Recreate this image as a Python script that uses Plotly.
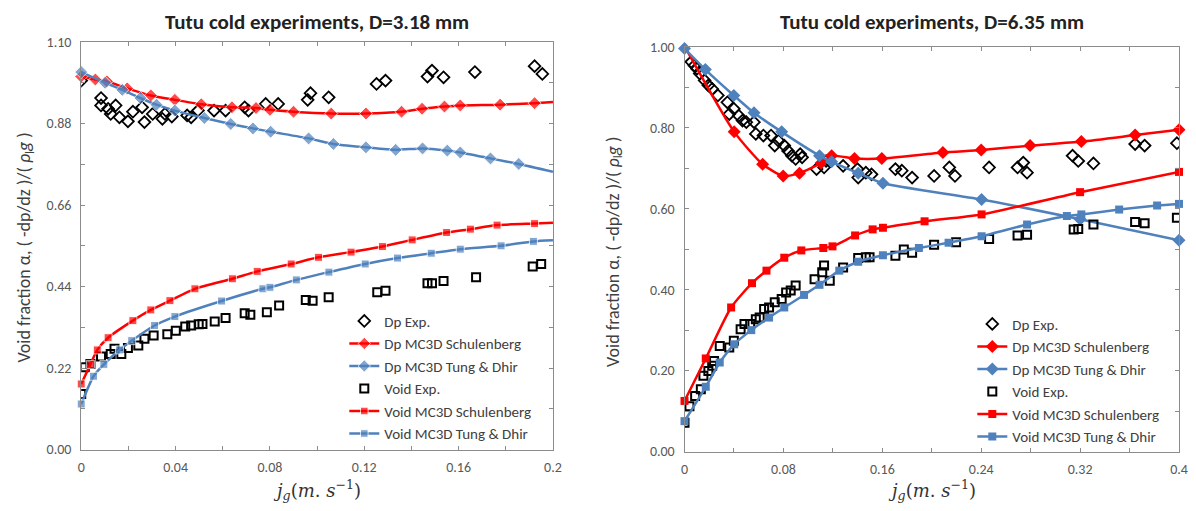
import plotly.graph_objects as go

# ---------------- D = 3.18 mm (left) ----------------
l_dpexp_x = [0, 0.0084, 0.0084, 0.0114, 0.0146, 0.0125, 0.0162, 0.0198, 0.0219, 0.0258, 0.0268, 0.0303,
             0.0344, 0.0355, 0.0384, 0.0449, 0.0466, 0.0495, 0.0563, 0.0612, 0.0693, 0.0709, 0.0782, 0.0835,
             0.096, 0.0972, 0.1049, 0.1252, 0.129, 0.1468, 0.1487, 0.1536, 0.1669, 0.1922, 0.1955]
l_dpexp_y = [0.996, 0.949, 0.929, 0.920, 0.929, 0.906, 0.897, 0.886, 0.912, 0.924, 0.884, 0.906,
             0.893, 0.906, 0.899, 0.902, 0.897, 0.915, 0.915, 0.915, 0.924, 0.915, 0.933, 0.933,
             0.944, 0.962, 0.951, 0.987, 0.996, 1.007, 1.023, 1.005, 1.019, 1.035, 1.014]

l_dpsch_x = [0, 0.006, 0.0109, 0.0195, 0.0295, 0.0397, 0.0509, 0.0639, 0.0741, 0.080, 0.090, 0.106,
             0.1207, 0.1358, 0.1445, 0.154, 0.1607, 0.1776, 0.1922, 0.2]
l_dpsch_y = [1.007, 0.999, 0.994, 0.975, 0.956, 0.944, 0.932, 0.924, 0.922, 0.917, 0.912, 0.907,
             0.907, 0.912, 0.920, 0.926, 0.929, 0.931, 0.935, 0.938]

l_dptd_x = [0, 0.0101, 0.0174, 0.0251, 0.0319, 0.0397, 0.0522, 0.0634, 0.0728, 0.0803, 0.0964, 0.1069,
            0.1207, 0.1333, 0.1447, 0.1552, 0.1607, 0.1735, 0.1855, 0.2]
l_dptd_y = [1.019, 0.990, 0.971, 0.949, 0.931, 0.915, 0.895, 0.879, 0.867, 0.858, 0.840, 0.825,
            0.816, 0.809, 0.813, 0.807, 0.802, 0.786, 0.771, 0.750]

l_vexp_x = [0, 0.0015, 0.0039, 0.0084, 0.0125, 0.0141, 0.017, 0.0198, 0.0242, 0.0268, 0.0307, 0.0365,
            0.0401, 0.0441, 0.0466, 0.0498, 0.0514, 0.0566, 0.0612, 0.0693, 0.0717, 0.0787, 0.0839,
            0.0952, 0.0981, 0.1049, 0.1255, 0.129, 0.1468, 0.1487, 0.1536, 0.1674, 0.1914, 0.195]
l_vexp_y = [0.150, 0.222, 0.231, 0.251, 0.258, 0.272, 0.258, 0.274, 0.281, 0.299, 0.308, 0.311,
            0.321, 0.332, 0.335, 0.338, 0.339, 0.346, 0.355, 0.368, 0.364, 0.371, 0.389,
            0.404, 0.402, 0.411, 0.425, 0.429, 0.449, 0.449, 0.455, 0.465, 0.494, 0.501]

l_vsch_x = [0, 0.0039, 0.0068, 0.0114, 0.0219, 0.0295, 0.0376, 0.0482, 0.0641, 0.0746, 0.089, 0.1006,
            0.1144, 0.1277, 0.1403, 0.1549, 0.165, 0.1763, 0.1922, 0.2]
l_vsch_y = [0.177, 0.230, 0.269, 0.302, 0.348, 0.377, 0.402, 0.434, 0.461, 0.481, 0.501, 0.519,
            0.533, 0.548, 0.566, 0.586, 0.595, 0.606, 0.610, 0.612]

l_vtd_x = [0, 0.0052, 0.0096, 0.0162, 0.0214, 0.0311, 0.0397, 0.0595, 0.077, 0.080, 0.0912, 0.105,
           0.1204, 0.1341, 0.1484, 0.1607, 0.178, 0.1917, 0.2]
l_vtd_y = [0.123, 0.198, 0.230, 0.269, 0.294, 0.335, 0.359, 0.401, 0.434, 0.438, 0.458, 0.479,
           0.501, 0.517, 0.530, 0.541, 0.550, 0.562, 0.565]

# ---------------- D = 6.35 mm (right) ----------------
r_dpexp_x = [0.0055, 0.008, 0.0101, 0.0123, 0.0163, 0.0193, 0.0224, 0.027, 0.0347, 0.0362, 0.0399, 0.0439,
             0.0469, 0.050, 0.0562, 0.0577, 0.0638, 0.070, 0.073, 0.0761, 0.0807, 0.0838, 0.0868, 0.0899,
             0.0936, 0.0951, 0.1068, 0.1129, 0.1145, 0.1283, 0.1399, 0.1405, 0.1467, 0.1513, 0.1706,
             0.1758, 0.1841, 0.2019, 0.2142, 0.2188, 0.2464, 0.2694, 0.274, 0.2771, 0.3139, 0.3185,
             0.3308, 0.3645, 0.3722, 0.3983]
r_dpexp_y = [0.963, 0.954, 0.946, 0.934, 0.917, 0.905, 0.896, 0.880, 0.863, 0.834, 0.847, 0.830,
             0.818, 0.814, 0.814, 0.785, 0.781, 0.781, 0.756, 0.768, 0.756, 0.743, 0.731, 0.723,
             0.735, 0.727, 0.698, 0.702, 0.718, 0.706, 0.698, 0.677, 0.689, 0.685, 0.698,
             0.694, 0.677, 0.681, 0.702, 0.681, 0.702, 0.702, 0.714, 0.689, 0.731, 0.718,
             0.712, 0.760, 0.756, 0.762]

r_dpsch_x = [0, 0.0402, 0.0632, 0.0798, 0.093, 0.1105, 0.119, 0.1375, 0.1596, 0.209, 0.240, 0.2795,
             0.321, 0.3645, 0.400]
r_dpsch_y = [1.002, 0.790, 0.710, 0.681, 0.688, 0.713, 0.731, 0.724, 0.724, 0.739, 0.745, 0.756,
             0.766, 0.782, 0.795]

r_dptd_x = [0, 0.0169, 0.0399, 0.0562, 0.0786, 0.1092, 0.119, 0.1405, 0.1605, 0.2403, 0.320, 0.400]
r_dptd_y = [0.996, 0.944, 0.880, 0.837, 0.790, 0.731, 0.716, 0.688, 0.663, 0.623, 0.574, 0.522]

r_vexp_x = [0, 0.004, 0.0086, 0.0132, 0.0153, 0.0193, 0.0224, 0.0239, 0.0285, 0.0362, 0.0399, 0.0454,
            0.0485, 0.0531, 0.0577, 0.0608, 0.0644, 0.0684, 0.073, 0.0786, 0.0822, 0.0859, 0.0899,
            0.1052, 0.1114, 0.1129, 0.1175, 0.1283, 0.1405, 0.1467, 0.1497, 0.1706, 0.1774, 0.1841,
            0.2019, 0.2197, 0.2464, 0.2694, 0.2771, 0.3148, 0.3185, 0.3308, 0.3645, 0.3722, 0.3983]
r_vexp_y = [0.071, 0.112, 0.137, 0.154, 0.187, 0.199, 0.212, 0.224, 0.261, 0.257, 0.274, 0.302,
            0.315, 0.315, 0.327, 0.331, 0.352, 0.356, 0.369, 0.377, 0.393, 0.398, 0.410,
            0.426, 0.443, 0.460, 0.422, 0.455, 0.478, 0.480, 0.480, 0.484, 0.499, 0.491,
            0.511, 0.517, 0.525, 0.534, 0.536, 0.549, 0.550, 0.561, 0.567, 0.564, 0.578]

r_vsch_x = [0, 0.0172, 0.0377, 0.0546, 0.0663, 0.0807, 0.0945, 0.1123, 0.1197, 0.138, 0.1522, 0.1605,
            0.1942, 0.2403, 0.320, 0.400]
r_vsch_y = [0.125, 0.230, 0.356, 0.416, 0.447, 0.479, 0.497, 0.503, 0.507, 0.534, 0.549, 0.553,
            0.569, 0.586, 0.641, 0.691]

r_vtd_x = [0, 0.0172, 0.0285, 0.0402, 0.054, 0.0684, 0.0807, 0.0967, 0.1092, 0.1252, 0.1405, 0.1605,
           0.1896, 0.2136, 0.2403, 0.2771, 0.3093, 0.321, 0.3516, 0.3823, 0.400]
r_vtd_y = [0.075, 0.160, 0.220, 0.265, 0.300, 0.331, 0.356, 0.387, 0.412, 0.447, 0.469, 0.485,
           0.503, 0.516, 0.532, 0.561, 0.582, 0.586, 0.598, 0.608, 0.612]

# ---------------- ticks ----------------
l_y_ticks = [0.00, 0.11, 0.22, 0.33, 0.44, 0.55, 0.66, 0.77, 0.88, 0.99, 1.10]
l_y_labels = ["0.00", "", "0.22", "", "0.44", "", "0.66", "", "0.88", "", "1.10"]
l_x_ticks = [0, 0.02, 0.04, 0.06, 0.08, 0.10, 0.12, 0.14, 0.16, 0.18, 0.20]
l_x_labels = ["0", "", "0.04", "", "0.08", "", "0.12", "", "0.16", "", "0.2"]
r_y_ticks = [0.0, 0.1, 0.2, 0.3, 0.4, 0.5, 0.6, 0.7, 0.8, 0.9, 1.0]
r_y_labels = ["0.00", "", "0.20", "", "0.40", "", "0.60", "", "0.80", "", "1.00"]
r_x_ticks = [0, 0.04, 0.08, 0.12, 0.16, 0.20, 0.24, 0.28, 0.32, 0.36, 0.40]
r_x_labels = ["0", "", "0.08", "", "0.16", "", "0.24", "", "0.32", "", "0.4"]

titles = ["Tutu cold experiments, D=3.18 mm", "Tutu cold experiments, D=6.35 mm"]
names = ["Dp Exp.", "Dp MC3D Schulenberg", "Dp MC3D Tung & Dhir",
         "Void Exp.", "Void MC3D Schulenberg", "Void MC3D Tung & Dhir"]

RED = "#FF0000"
BLUE = "#4F81BD"
FONT = "Carlito, Lato, sans-serif"

# The page body has an 8px default margin: size the figure to fit the window
OFF = 8
W, H = 1196 - 2 * OFF, 511 - 2 * OFF


def px_x(x):
    return min(max((x - OFF) / W, 0.0), 1.0)


def px_y(y):
    return (H - (y - OFF)) / H


fig = go.Figure()


def add_set(xa, ya, legend, sets, edge_hidden):
    (dpe, dps, dpt, ve, vs, vt) = sets
    common = dict(xaxis=xa, yaxis=ya, legend=legend)

    def msize(xs, s):
        if not edge_hidden:
            return s
        return [s if v < 0.1999 else 0 for v in xs]

    fig.add_trace(go.Scatter(x=dpe[0], y=dpe[1], mode="markers", name=names[0],
                             marker=dict(symbol="diamond-open", size=9, color="black", line=dict(width=1.8)),
                             legendgroup=legend + "a", **common))
    fig.add_trace(go.Scatter(x=dps[0], y=dps[1], mode="lines+markers", name=names[1],
                             line=dict(color=RED, width=2.5, shape="spline", smoothing=0.6),
                             marker=dict(symbol="diamond", size=msize(dps[0], 10), color=RED),
                             cliponaxis=False, legendgroup=legend + "b", **common))
    fig.add_trace(go.Scatter(x=dpt[0], y=dpt[1], mode="lines+markers", name=names[2],
                             line=dict(color=BLUE, width=2.5, shape="spline", smoothing=0.6),
                             marker=dict(symbol="diamond", size=msize(dpt[0], 10), color=BLUE),
                             cliponaxis=False, legendgroup=legend + "c", **common))
    fig.add_trace(go.Scatter(x=ve[0], y=ve[1], mode="markers", name=names[3],
                             marker=dict(symbol="square-open", size=8, color="black", line=dict(width=2)),
                             legendgroup=legend + "d", **common))
    fig.add_trace(go.Scatter(x=vs[0], y=vs[1], mode="lines+markers", name=names[4],
                             line=dict(color=RED, width=2.5, shape="spline", smoothing=0.6),
                             marker=dict(symbol="square", size=msize(vs[0], 8), color=RED),
                             cliponaxis=False, legendgroup=legend + "e", **common))
    fig.add_trace(go.Scatter(x=vt[0], y=vt[1], mode="lines+markers", name=names[5],
                             line=dict(color=BLUE, width=2.5, shape="spline", smoothing=0.6),
                             marker=dict(symbol="square", size=msize(vt[0], 8), color=BLUE),
                             cliponaxis=False, legendgroup=legend + "f", **common))


add_set("x", "y", "legend",
        [(l_dpexp_x, l_dpexp_y), (l_dpsch_x, l_dpsch_y), (l_dptd_x, l_dptd_y),
         (l_vexp_x, l_vexp_y), (l_vsch_x, l_vsch_y), (l_vtd_x, l_vtd_y)], True)
add_set("x2", "y2", "legend2",
        [(r_dpexp_x, r_dpexp_y), (r_dpsch_x, r_dpsch_y), (r_dptd_x, r_dptd_y),
         (r_vexp_x, r_vexp_y), (r_vsch_x, r_vsch_y), (r_vtd_x, r_vtd_y)], False)

# plot areas in window pixels
L = dict(x0=78, x1=555, y0=35, y1=457)
R = dict(x0=688, x1=1188, y0=40, y1=459)

lx, ly = [px_x(L["x0"]), px_x(L["x1"])], [px_y(L["y1"]), px_y(L["y0"])]
rx, ry = [px_x(R["x0"]), px_x(R["x1"])], [px_y(R["y1"]), px_y(R["y0"])]

axis_common = dict(showgrid=False, zeroline=False, showline=True, linecolor="#8c8c8c", linewidth=1,
                   mirror="ticks", ticks="inside", ticklen=4, tickcolor="#8c8c8c",
                   tickfont=dict(family=FONT, size=14, color="#595959"))

fig.update_layout(
    width=W, height=H, margin=dict(l=0, r=0, t=0, b=0),
    plot_bgcolor="white", paper_bgcolor="white", showlegend=True,
    xaxis=dict(domain=lx, range=[0, 0.2], tickvals=l_x_ticks, ticktext=l_x_labels, anchor="y",
               ticklabelstandoff=5, **axis_common),
    yaxis=dict(domain=ly, range=[0, 1.1], tickvals=l_y_ticks, ticktext=l_y_labels, anchor="x",
               ticklabelstandoff=6, **axis_common),
    xaxis2=dict(domain=rx, range=[0, 0.4], tickvals=r_x_ticks, ticktext=r_x_labels, anchor="y2",
                ticklabelstandoff=5, **axis_common),
    yaxis2=dict(domain=ry, range=[0, 1.0], tickvals=r_y_ticks, ticktext=r_y_labels, anchor="x2",
                ticklabelstandoff=6, **axis_common),
    legend=dict(x=px_x(344), y=px_y(307), xanchor="left", yanchor="top", bgcolor="rgba(0,0,0,0)",
                font=dict(family=FONT, size=15, color="#404040"), tracegroupgap=0, itemwidth=30),
    legend2=dict(x=px_x(979), y=px_y(310), xanchor="left", yanchor="top", bgcolor="rgba(0,0,0,0)",
                 font=dict(family=FONT, size=15, color="#404040"), tracegroupgap=0, itemwidth=30),
)

ytitle = "Void fraction α, ( -dp/dz )/( <i>ρ</i><sub>l</sub><i>g</i> )"
xtitle = "<i>j</i><sub><i>g</i></sub>(<i>m</i>. <i>s</i><sup>−1</sup>)"
ann = []
for a, t in ((L, titles[0]), (R, titles[1])):
    cx = px_x((a["x0"] + a["x1"]) / 2)
    ann.append(dict(x=cx, y=px_y(14), xref="paper", yref="paper", text="<b>" + t + "</b>",
                    xanchor="center", yanchor="middle",
                    showarrow=False, font=dict(family=FONT, size=21, color="#222222")))
    ann.append(dict(x=cx, y=px_y(499), xref="paper", yref="paper", text=xtitle,
                    xanchor="center", yanchor="middle",
                    showarrow=False, font=dict(family="DejaVu Serif, serif", size=18, color="#333333")))
ann.append(dict(x=px_x(21), y=px_y(248), xref="paper", yref="paper", text=ytitle, textangle=-90,
                xanchor="center", yanchor="middle",
                showarrow=False, font=dict(family=FONT, size=18, color="#404040")))
ann.append(dict(x=px_x(616), y=px_y(252), xref="paper", yref="paper", text=ytitle, textangle=-90,
                xanchor="center", yanchor="middle",
                showarrow=False, font=dict(family=FONT, size=18, color="#404040")))
fig.update_layout(annotations=ann)

fig.write_html("out.html")
